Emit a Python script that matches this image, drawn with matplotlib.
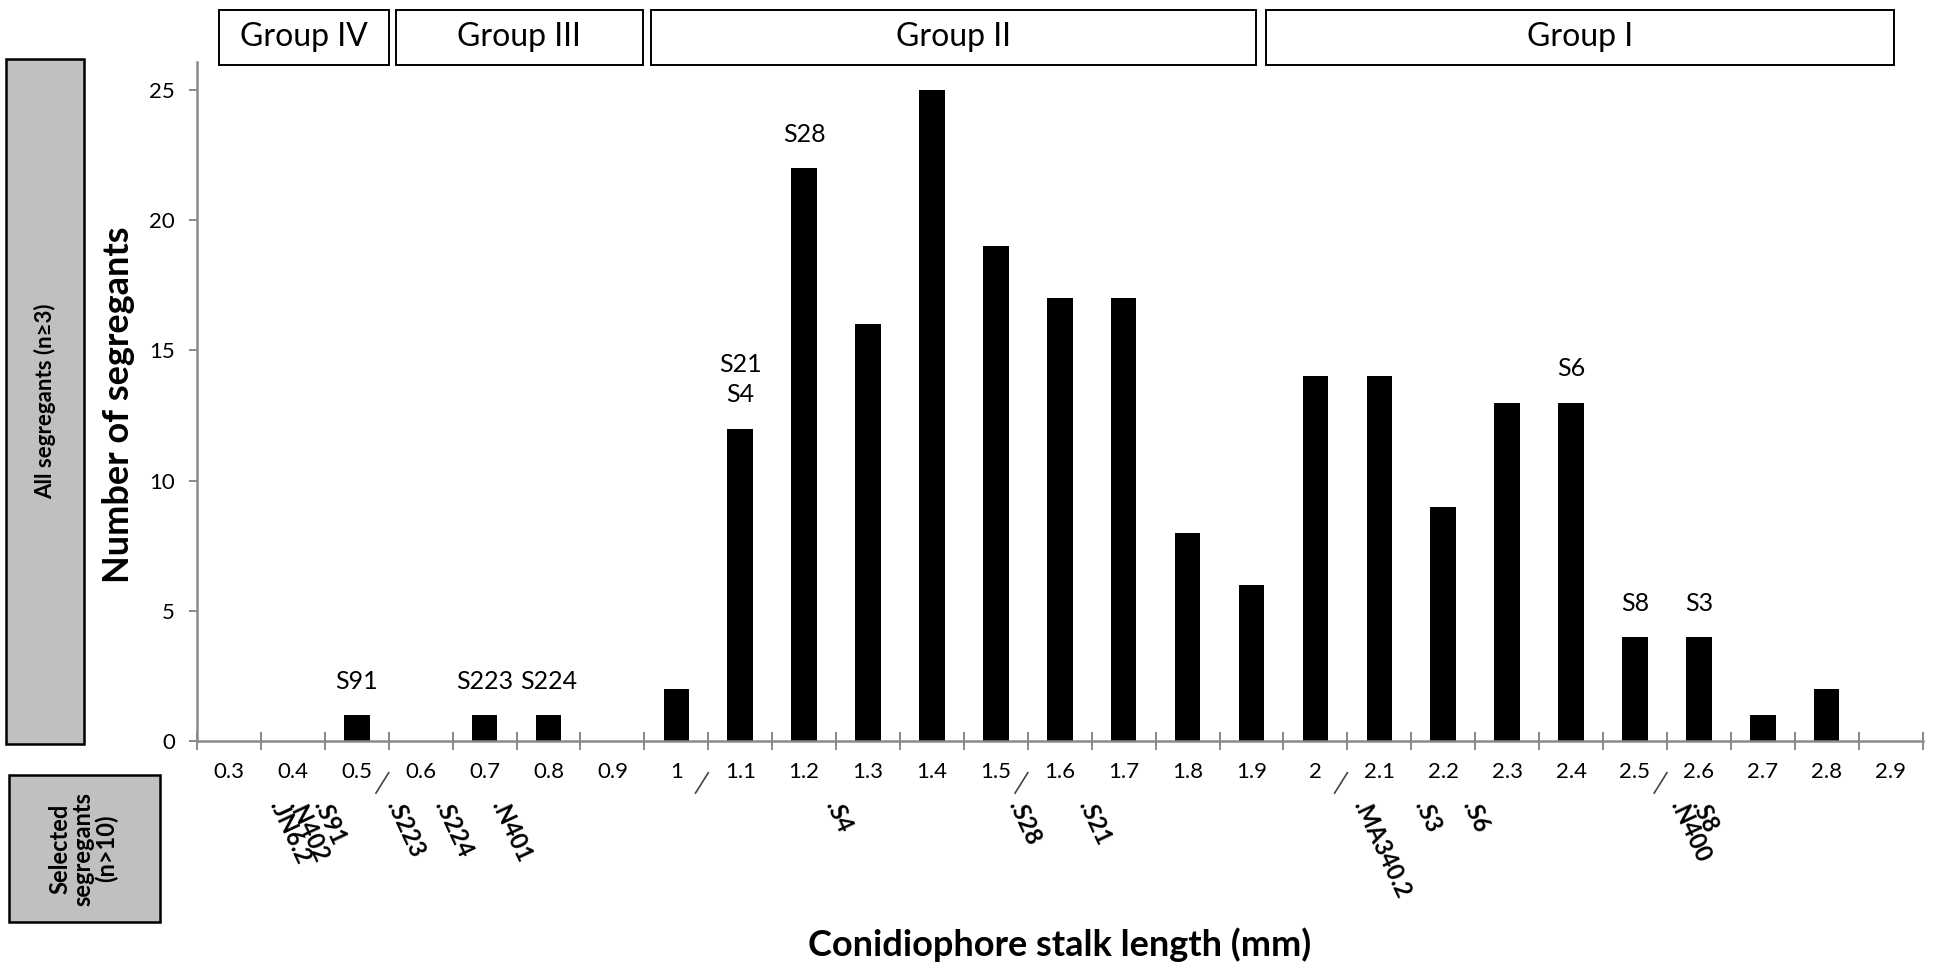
import matplotlib
matplotlib.use("Agg")
import matplotlib.pyplot as plt
from matplotlib.patches import Rectangle
from matplotlib.transforms import blended_transform_factory

plt.rcParams['font.family'] = ['Lato', 'DejaVu Sans']

# stalk length classes (mm) and segregant counts
lengths = ['0.3', '0.4', '0.5', '0.6', '0.7', '0.8', '0.9', '1', '1.1', '1.2',
           '1.3', '1.4', '1.5', '1.6', '1.7', '1.8', '1.9', '2', '2.1', '2.2',
           '2.3', '2.4', '2.5', '2.6', '2.7', '2.8', '2.9']
counts = [0, 0, 1, 0, 1, 1, 0, 2, 12, 22, 16, 25, 19, 17, 17, 8, 6,
          14, 14, 9, 13, 13, 4, 4, 1, 2, 0]

# segregant names written above bars
bar_notes = {'0.5': 'S91', '0.7': 'S223', '0.8': 'S224', '1.1': 'S21\nS4',
             '1.2': 'S28', '2.4': 'S6', '2.5': 'S8', '2.6': 'S3'}

# selected segregants (n>10): name and mean stalk length (mm)
sel_names = ['JN6.2', 'N402', 'S91', 'S223', 'S224', 'N401', 'S4', 'S28',
             'S21', 'MA340.2', 'S3', 'S6', 'N400', 'S8']
sel_lengths = [0.362, 0.393, 0.431, 0.545, 0.621, 0.710, 1.232, 1.519,
               1.628, 2.059, 2.155, 2.230, 2.555, 2.588]

# axis break marks after these classes
breaks_after = ['0.5', '1', '1.5', '2', '2.5']

groups = ['Group IV', 'Group III', 'Group II', 'Group I']
# box edges in category units (layout)
group_edges = [(-0.16, 2.50), (2.61, 6.48), (6.61, 16.07), (16.23, 26.06)]

grey = '#8a8a8a'
W, H = 1568.0, 784.0   # layout grid, scaled to the figure


def fx(px):
    return px / W


def fy(py):
    return 1 - py / H


fig = plt.figure(figsize=(19.55, 9.77), dpi=100)
ax = fig.add_axes([fx(158), fy(595), 1384 / W, 545 / H])

x = list(range(len(lengths)))
ax.bar(x, counts, width=0.4, color='black')

ax.set_xlim(-0.5, len(lengths) - 0.5)
ax.set_ylim(0, 26.05)
ax.set_yticks([0, 5, 10, 15, 20, 25])
ax.set_xticks(x)
ax.set_xticklabels(lengths)
ax.set_xticks([i - 0.5 for i in range(len(lengths) + 1)], minor=True)

for s in ['top', 'right']:
    ax.spines[s].set_visible(False)
for s in ['left', 'bottom']:
    ax.spines[s].set_color(grey)
    ax.spines[s].set_linewidth(1.8)

ax.tick_params(axis='x', which='major', length=0, pad=15, labelsize=16)
ax.tick_params(axis='x', which='minor', direction='inout', length=13,
               width=1.4, color=grey)
ax.tick_params(axis='y', direction='out', length=6, width=1.4, color=grey,
               pad=10, labelsize=16)

for key, txt in bar_notes.items():
    i = lengths.index(key)
    ax.annotate(txt, (i, counts[i]), xytext=(0, 16), textcoords='offset points',
                ha='center', va='bottom', fontsize=18, linespacing=1.4)

# break marks on the x axis
bt = blended_transform_factory(ax.transData, ax.transAxes)
for key in breaks_after:
    b = lengths.index(key) + 0.5
    ax.plot([b - 0.2, b], [-0.076, -0.046], color='#444444', lw=1.2,
            transform=bt, clip_on=False)

# selected segregant labels
for name, mm in zip(sel_names, sel_lengths):
    pos = (mm - 0.3) / 0.1
    ax.annotate('.' + name, (pos, 0), xycoords=('data', 'axes fraction'),
                xytext=(0, -46), textcoords='offset points',
                rotation=-65, rotation_mode='anchor', ha='left', va='baseline',
                fontsize=17, fontweight='bold')

# group boxes
gt = blended_transform_factory(ax.transData, fig.transFigure)
y0, y1 = fy(52), fy(8)
for name, (g0, g1) in zip(groups, group_edges):
    fig.add_artist(Rectangle((g0, y0), g1 - g0, y1 - y0, transform=gt,
                             facecolor='white', edgecolor='black', lw=1.4,
                             clip_on=False))
    fig.add_artist(plt.Text((g0 + g1) / 2, (y0 + y1) / 2, name, transform=gt,
                            ha='center', va='center', fontsize=23))

# left side boxes
fig.add_artist(Rectangle((fx(5), fy(597)), 62 / W, 550 / H,
                         transform=fig.transFigure, facecolor='#c0c0c0',
                         edgecolor='black', lw=1.8))
fig.text(fx(36), fy(322), 'All segregants (n\u22653)', rotation=90,
         ha='center', va='center', fontsize=16, fontweight='bold')
fig.add_artist(Rectangle((fx(7), fy(740)), 121 / W, 118 / H,
                         transform=fig.transFigure, facecolor='#c0c0c0',
                         edgecolor='black', lw=1.8))
fig.text(fx(67), fy(681), 'Selected\nsegregants\n(n>10)', rotation=90,
         ha='center', va='center', fontsize=17, fontweight='bold',
         linespacing=1.0, multialignment='center')

fig.text(fx(95), fy(325), 'Number of segregants', rotation=90,
         ha='center', va='center', fontsize=26, fontweight='bold')
fig.text(fx(850), fy(945 * H / 977), 'Conidiophore stalk length (mm)',
         ha='center', va='center', fontsize=26, fontweight='bold')

fig.savefig('out.png', dpi=100, facecolor='white')
